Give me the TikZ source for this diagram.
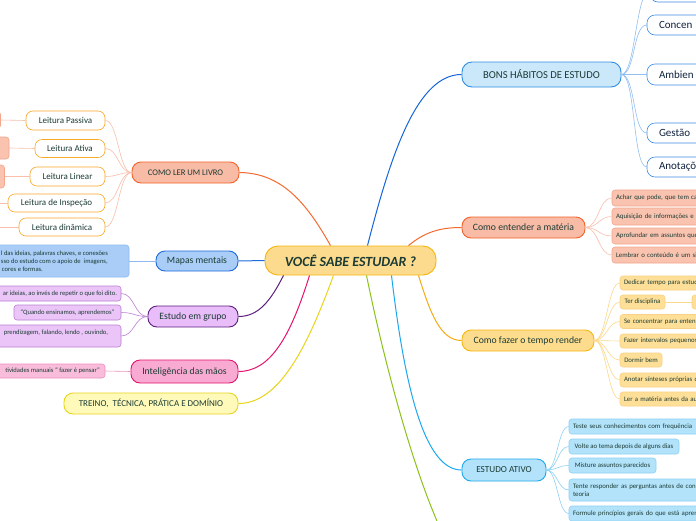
\documentclass[tikz,border=0pt]{standalone}
\usepackage{fontspec}
\setmainfont{Carlito}
\usetikzlibrary{calc}
\definecolor{txt}{HTML}{1B3B34}
\definecolor{navy}{HTML}{10223F}
\definecolor{cFill}{HTML}{FDDB8E}
\definecolor{cDraw}{HTML}{F5B50A}
\definecolor{orFill}{HTML}{F8BBA6}
\definecolor{orDraw}{HTML}{F2622A}
\definecolor{orLine}{HTML}{F26A2E}
\definecolor{orLight}{HTML}{F9BFAA}
\definecolor{orChildFill}{HTML}{F9C3B0}
\definecolor{orChildDraw}{HTML}{F4A68C}
\definecolor{leitDraw}{HTML}{F7A928}
\definecolor{mmFill}{HTML}{A9CDF7}
\definecolor{mmDraw}{HTML}{1D6BDD}
\definecolor{mmChildDraw}{HTML}{8DBBF1}
\definecolor{egFill}{HTML}{E9BDF9}
\definecolor{egDraw}{HTML}{5C1F7E}
\definecolor{egChildFill}{HTML}{EBC5F8}
\definecolor{egChildDraw}{HTML}{B97FD2}
\definecolor{imFill}{HTML}{F9AAD2}
\definecolor{imDraw}{HTML}{E5136E}
\definecolor{imChildFill}{HTML}{F9BCDB}
\definecolor{imChildDraw}{HTML}{F08FC0}
\definecolor{trFill}{HTML}{FFFAB9}
\definecolor{trDraw}{HTML}{E9D41C}
\definecolor{bhFill}{HTML}{CBE7FA}
\definecolor{bhDraw}{HTML}{2E8EE2}
\definecolor{bhLine}{HTML}{1565D8}
\definecolor{bhChild}{HTML}{3D8DE0}
\definecolor{bhLight}{HTML}{92BFEF}
\definecolor{tfFill}{HTML}{FDDC8D}
\definecolor{tfDraw}{HTML}{F6B70F}
\definecolor{tfLine}{HTML}{F6AA12}
\definecolor{tfChildFill}{HTML}{FEDF98}
\definecolor{tfChildDraw}{HTML}{F9D184}
\definecolor{tfLight}{HTML}{FBD88C}
\definecolor{eaFill}{HTML}{B3E3FA}
\definecolor{eaDraw}{HTML}{1DA8EE}
\definecolor{eaChildDraw}{HTML}{8ED1F3}
\definecolor{grLine}{HTML}{8CC21A}
\tikzset{
  big/.style={draw, line width=0.9pt, rounded corners=9pt, inner sep=0pt, text=txt, align=center},
  small/.style={draw, line width=0.6pt, rounded corners=3pt, inner sep=0pt, text=txt},
  leit/.style={small, fill=white, draw=leitDraw, rounded corners=7pt, font=\fontsize{9}{10}\selectfont},
  tiny/.style={font=\fontsize{6.8}{8}\selectfont},
  ltiny/.style={font=\fontsize{6.6}{8}\selectfont},
  conn/.style={line width=1pt},
  sub/.style={line width=0.6pt},
}
\begin{document}
\begin{tikzpicture}[x=1pt,y=-1pt]
\useasboundingbox (0,0) rectangle (696,520);
\fill[white] (0,0) rectangle (696,520);

% centre
\node[big, fill=cFill, draw=cDraw, rounded corners=13pt, minimum width=171pt, minimum height=29pt,
      font=\bfseries\itshape\fontsize{14}{16}\selectfont] (c) at (350.5,260.5) {VOCÊ SABE ESTUDAR ?};

% ---------- left side ----------
\node[big, fill=orFill, draw=orDraw, minimum width=107pt, minimum height=21pt, font=\fontsize{8.6}{10}\selectfont] (L1) at (185.5,172.5) {COMO LER UM LIVRO};
\node[leit, minimum width=79pt, minimum height=19pt] (lp) at (65.5,120.5) {Leitura Passiva};
\node[leit, minimum width=70pt, minimum height=18pt] (la) at (70,148.5) {Leitura Ativa};
\node[leit, minimum width=75pt, minimum height=19pt] (ll) at (67.5,176.5) {Leitura Linear};
\node[leit, minimum width=97pt, minimum height=18pt] (li) at (56.5,203) {Leitura de Inspeção};
\node[leit, minimum width=86pt, minimum height=18pt] (ld) at (62,227) {Leitura dinâmica};
\node[small, fill=orChildFill, draw=orChildDraw, minimum width=41pt, minimum height=17pt] (pp) at (-20,120) {};
\node[small, fill=orChildFill, draw=orChildDraw, minimum width=48pt, minimum height=22pt] (pa) at (-15,148) {};
\node[small, fill=orChildFill, draw=orChildDraw, minimum width=49pt, minimum height=23pt] (pl) at (-20,176.5) {};
\coordinate (pi) at (0,203);
\coordinate (pd) at (0,227);

\node[big, fill=mmFill, draw=mmDraw, minimum width=82pt, minimum height=20pt, font=\fontsize{9.7}{11}\selectfont] (mm) at (197,261) {Mapas mentais};
\node[small, fill=mmFill, draw=mmChildDraw, minimum width=139pt, minimum height=32pt, align=left, ltiny] (mc) at (59.5,261)
  {\makebox[117pt][l]{l das ideias, palavras chaves, e conexões}\\\makebox[117pt][l]{sso do estudo com o apoio de\ \ imagens,}\\\makebox[117pt][l]{\kern 1pt cores e formas.}};

\node[big, fill=egFill, draw=egDraw, minimum width=90pt, minimum height=21pt, font=\fontsize{9.7}{11}\selectfont] (eg) at (193,316.5) {Estudo em grupo};
\node[small, fill=egChildFill, draw=egChildDraw, minimum width=131pt, minimum height=15pt, ltiny] (g1) at (55.5,293.5) {\makebox[123pt][r]{ar ideias, ao invés de repetir o que foi dito.}};
\node[small, fill=egChildFill, draw=egChildDraw, minimum width=107pt, minimum height=15pt, align=center, ltiny] (g2) at (67.5,312.5) {“Quando ensinamos, aprendemos”};
\node[small, fill=egChildFill, draw=egChildDraw, minimum width=131pt, minimum height=22pt, align=right, ltiny] (g3) at (55.5,336) {\makebox[105pt][r]{prendizagem, falando, lendo , ouvindo,}\\\mbox{}};

\node[big, fill=imFill, draw=imDraw, minimum width=107pt, minimum height=23pt, font=\fontsize{9.7}{11}\selectfont] (im) at (184.5,371.5) {Inteligência das mãos};
\node[small, fill=imChildFill, draw=imChildDraw, minimum width=115pt, minimum height=14pt, ltiny] (ic) at (47.5,371) {\makebox[105pt][r]{tividades manuais “ fazer é pensar”}};

\node[big, fill=trFill, draw=trDraw, minimum width=174pt, minimum height=21pt, font=\fontsize{9}{10}\selectfont] (tr) at (151,403.5) {TREINO,\ \ TÉCNICA, PRÁTICA E DOMÍNIO};

% ---------- right side ----------
\node[big, fill=bhFill, draw=bhDraw, rounded corners=10pt, minimum width=159pt, minimum height=25pt, font=\fontsize{10.6}{12}\selectfont] (bh) at (541.5,74.5) {BONS HÁBITOS DE ESTUDO};
\tikzset{bchild/.style={small, fill=white, draw=bhChild, rounded corners=8pt, minimum width=80pt, text width=56pt, align=left, text=navy, font=\fontsize{11}{12}\selectfont}}
\node[bchild, minimum height=22pt] (b0) at (690,-9) {};
\node[bchild, minimum height=20pt] (b1) at (687,25) {Concen};
\node[bchild, minimum height=21pt] (b2) at (687,74.5) {Ambien};
\node[bchild, minimum height=20pt] (b3) at (687,133) {Gestão};
\node[bchild, minimum height=20pt] (b4) at (687,167) {Anotaçõ};

\node[big, fill=orFill, draw=orDraw, minimum width=123pt, minimum height=21pt, font=\fontsize{9.7}{11}\selectfont] (ce) at (523.5,227.5) {Como entender a matéria};
\tikzset{echild/.style={small, fill=orChildFill, draw=orChildDraw, minimum width=108pt, text width=100pt, align=left, tiny}}
\node[echild, minimum height=16pt] (e1) at (666,198) {Achar que pode, que tem cap};
\node[echild, minimum height=17pt] (e2) at (666,216.5) {Aquisição de informações e p};
\node[echild, minimum height=16pt] (e3) at (666,236) {Aprofundar em assuntos que};
\node[echild, minimum height=16pt] (e4) at (666,255) {Lembrar o conteúdo é um si};

\node[big, fill=tfFill, draw=tfDraw, minimum width=132pt, minimum height=21pt, font=\fontsize{9.7}{11}\selectfont] (cf) at (528,340.5) {Como fazer o tempo render};
\tikzset{fchild/.style={small, fill=tfChildFill, draw=tfChildDraw, minimum height=14pt, tiny}}
\node[fchild, minimum width=100pt, text width=92pt, align=left] (f1) at (670,283) {Dedicar tempo para estud};
\node[fchild, minimum width=45pt] (f2) at (642.5,302) {Ter disciplina};
\node[fchild, minimum width=28pt] (f2b) at (706,302) {};
\node[fchild, minimum width=100pt, text width=92pt, align=left] (f3) at (670,321.5) {Se concentrar para enten};
\node[fchild, minimum width=100pt, text width=92pt, align=left] (f4) at (670,341) {Fazer intervalos pequenos};
\node[fchild, minimum width=42pt] (f5) at (641,360) {Dormir bem};
\node[fchild, minimum width=100pt, text width=92pt, align=left] (f6) at (670,380) {Anotar sínteses próprias d};
\node[fchild, minimum width=100pt, text width=92pt, align=left] (f7) at (670,399) {Ler a matéria antes da au};

\node[big, fill=eaFill, draw=eaDraw, minimum width=84pt, minimum height=22pt, font=\fontsize{9.2}{11}\selectfont] (ea) at (504,470) {ESTUDO ATIVO};
\tikzset{achild/.style={small, fill=eaFill, draw=eaChildDraw, minimum height=15pt, tiny}}
\node[achild, minimum width=151pt, text width=143pt, align=left] (a1) at (644.5,426.5) {Teste seus conhecimentos com frequência};
\node[achild, minimum width=110pt] (a2) at (624,446.5) {Volte ao tema depois de alguns dias};
\node[achild, minimum width=87pt] (a3) at (612.5,465.5) {Misture assuntos parecidos};
\node[achild, minimum width=151pt, minimum height=22pt, text width=143pt, align=left] (a4) at (644.5,490) {Tente responder as perguntas antes de con\\teoria};
\node[achild, minimum width=151pt, text width=143pt, align=left] (a5) at (644.5,513.5) {Formule princípios gerais do que está apren};
\coordinate (gr) at (437,521);

% ---------- main connectors ----------
\draw[conn, orLine] ($(c.north)+(-20,0)$) .. controls (305,200) and (280,173) .. (L1.east);
\draw[conn, mmDraw] (c.west) -- (mm.east);
\draw[conn, egDraw] ($(c.south)+(-67,0)$) .. controls (270,302) and (258,316.5) .. (eg.east);
\draw[conn, imDraw] ($(c.south)+(-41,0)$) .. controls (290,338) and (270,371.5) .. (im.east);
\draw[conn, trDraw] ($(c.south)+(-17,0)$) .. controls (308,345) and (280,403.5) .. (tr.east);
\draw[conn, bhLine] ($(c.north)+(17,0)$) .. controls (392,150) and (418,74.5) .. (bh.west);
\draw[conn, orLine] ($(c.north)+(58,0)$) .. controls (425,232) and (440,227.5) .. (ce.west);
\draw[conn, tfLine] ($(c.south)+(68,0)$) .. controls (430,312) and (440,340.5) .. (cf.west);
\draw[conn, eaDraw] ($(c.south)+(41,0)$) .. controls (405,390) and (425,470) .. (ea.west);
\draw[conn, grLine] ($(c.south)+(16,0)$) .. controls (388,380) and (415,470) .. (gr);

% ---------- sub connectors ----------
\foreach \n in {lp,la,ll,li,ld}
  \draw[sub, orLight] (L1.west) .. controls +(-13,0) and +(13,0) .. (\n.east);
\draw[sub, orLight] (lp.west) -- (pp.east);
\draw[sub, orLight] (la.west) -- (pa.east);
\draw[sub, orLight] (ll.west) -- (pl.east);
\draw[sub, orLight] (li.west) -- (pi);
\draw[sub, orLight] (ld.west) -- (pd);
\draw[sub, mmChildDraw] (mm.west) -- (mc.east);
\foreach \n in {g1,g2,g3}
  \draw[sub, egChildDraw] (eg.west) .. controls +(-13,0) and +(13,0) .. (\n.east);
\draw[sub, imChildDraw] (im.west) -- (ic.east);
\foreach \n in {b0,b1,b2,b3,b4}
  \draw[sub, bhLight] (bh.east) .. controls +(14,0) and +(-14,0) .. (\n.west);
\foreach \n in {e1,e2,e3,e4}
  \draw[sub, orLight] (ce.east) .. controls +(13,0) and +(-13,0) .. (\n.west);
\foreach \n in {f1,f2,f3,f4,f5,f6,f7}
  \draw[sub, tfLight] (cf.east) .. controls +(12,0) and +(-12,0) .. (\n.west);
\draw[sub, tfLight] (f2.east) -- (f2b.west);
\foreach \n in {a1,a2,a3,a4,a5}
  \draw[sub, eaChildDraw] (ea.east) .. controls +(11,0) and +(-11,0) .. (\n.west);
\end{tikzpicture}
\end{document}
